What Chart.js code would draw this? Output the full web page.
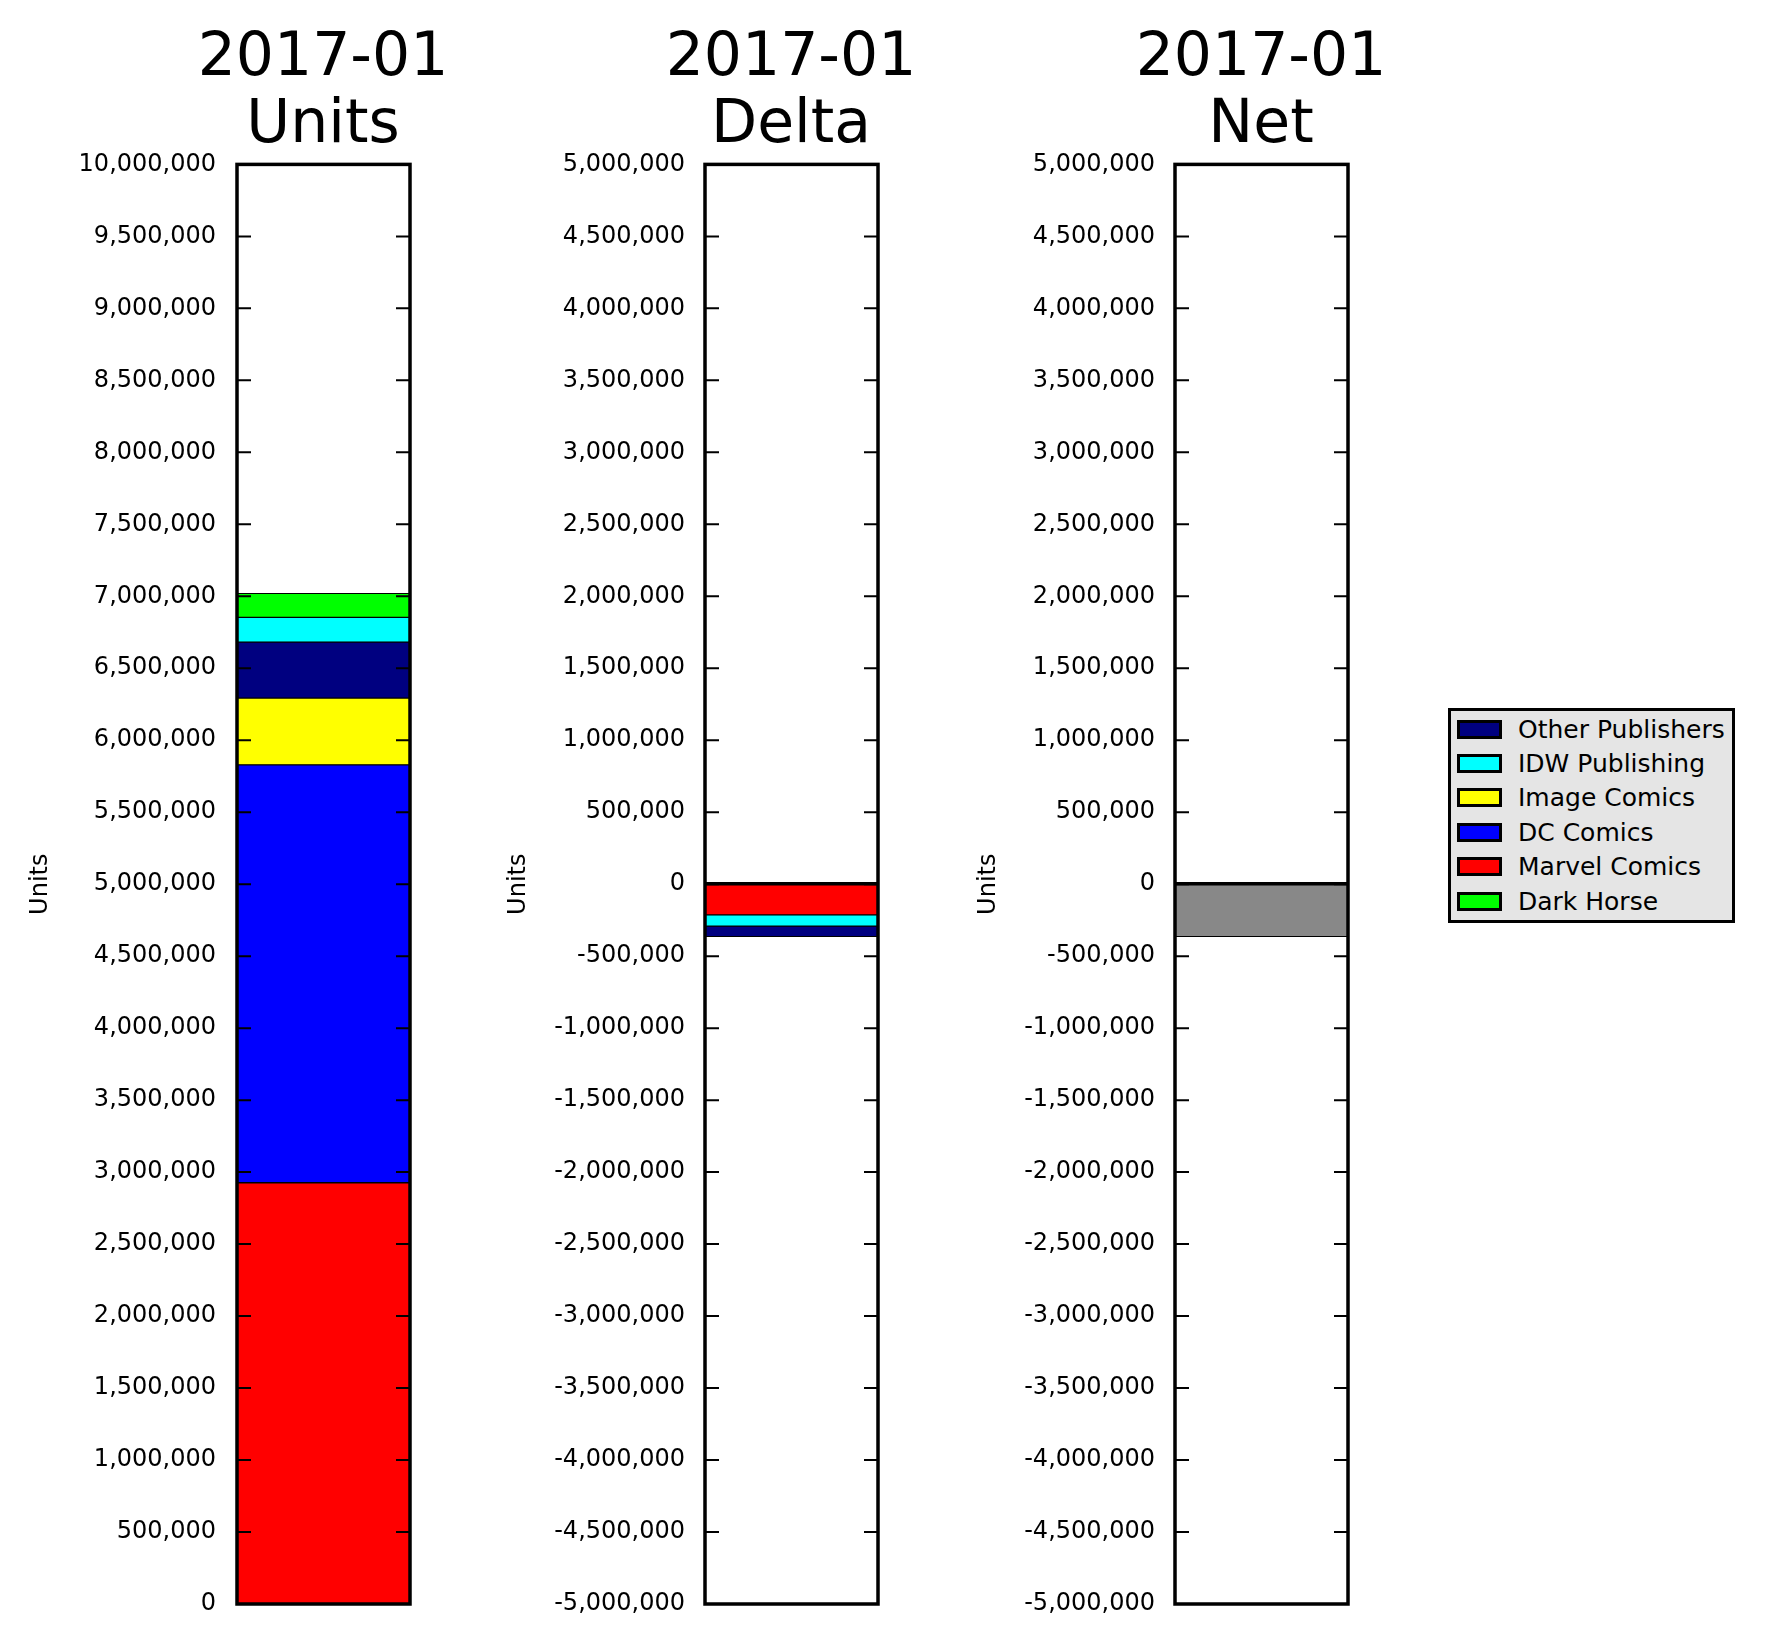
<!DOCTYPE html>
<html>
<head>
<meta charset="utf-8">
<title>2017-01 Units / Delta / Net</title>
<script src="https://cdn.jsdelivr.net/npm/chart.js@4.4.1/dist/chart.umd.min.js"></script>
<style>
  html, body { margin: 0; padding: 0; background: #fff; }
  body { width: 1776px; height: 1647px; position: relative; overflow: hidden; font-family: 'DejaVu Sans', sans-serif; }
  .panel { position: absolute; top: 0; }
  #legend { position: absolute; left: 1448px; top: 708px; width: 287px; height: 215px; box-sizing: border-box;
            border: 3px solid #000; background: #e5e5e5; padding-top: 1px; }
  .item { height: 34.4px; display: flex; align-items: center; font-size: 25px; color: #000; white-space: nowrap; }
  .swatch { width: 45px; height: 19px; box-sizing: border-box; border: 3px solid #000; margin-left: 6px; margin-right: 16px; }
</style>
</head>
<body>
<canvas id="units" class="panel" width="646" height="1647" style="left:0px"></canvas>
<canvas id="delta" class="panel" width="646" height="1647" style="left:468px"></canvas>
<canvas id="net" class="panel" width="646" height="1647" style="left:938px"></canvas>
<div id="legend"></div>
<script>
// data
const period = ['2017-01'];
const publishers = ['Marvel Comics', 'DC Comics', 'Image Comics', 'Other Publishers', 'IDW Publishing', 'Dark Horse'];
const unitsValues = [2926000, 2903000, 463000, 390000, 172000, 167000];
const deltaValues = [-213000, 0, 0, -74000, -78000, 0];
const netValues = [-365000];
const deltaStackOrder = ['Marvel Comics', 'DC Comics', 'Image Comics', 'IDW Publishing', 'Other Publishers', 'Dark Horse'];
const legendOrder = ['Other Publishers', 'IDW Publishing', 'Image Comics', 'DC Comics', 'Marvel Comics', 'Dark Horse'];
const unitsRange = [0, 10000000];
const deltaRange = [-5000000, 5000000];
const tickStep = 500000;

const colors = {
  'Marvel Comics': '#ff0000',
  'DC Comics': '#0000ff',
  'Image Comics': '#ffff00',
  'Other Publishers': '#000080',
  'IDW Publishing': '#00ffff',
  'Dark Horse': '#00ff00',
  'Net': '#888888'
};

const FONT = 'DejaVu Sans';

// matplotlib-classic look: black frame, inward ticks on both sides
const frameAndTicks = {
  id: 'frameAndTicks',
  afterDatasetsDraw(chart) {
    const { ctx, chartArea: a } = chart;
    const y = chart.scales.y;
    ctx.save();
    ctx.strokeStyle = '#000';
    if (y.min < 0) {
      const z = y.getPixelForValue(0);
      ctx.lineWidth = 3.5;
      ctx.beginPath();
      ctx.moveTo(a.left, z - 0.5);
      ctx.lineTo(a.right, z - 0.5);
      ctx.stroke();
    }
    ctx.lineWidth = 2;
    y.ticks.forEach(t => {
      const py = y.getPixelForValue(t.value);
      ctx.beginPath();
      ctx.moveTo(a.left, py);
      ctx.lineTo(a.left + 14, py);
      ctx.moveTo(a.right - 14, py);
      ctx.lineTo(a.right, py);
      ctx.stroke();
    });
    ctx.lineWidth = 3.5;
    ctx.strokeRect(a.left, a.top, a.width, a.height);
    ctx.restore();
  }
};

function barSet(label, values) {
  return {
    label: label,
    data: values,
    backgroundColor: colors[label],
    borderColor: '#000',
    borderWidth: 1,
    borderSkipped: false,
    categoryPercentage: 1,
    barPercentage: 1
  };
}

function makePanel(id, name, datasets, range, labelPad, titleX) {
  return new Chart(document.getElementById(id), {
    type: 'bar',
    data: { labels: period, datasets: datasets },
    plugins: [frameAndTicks],
    options: {
      responsive: false,
      animation: false,
      layout: { padding: { left: 0, right: 0, top: 0, bottom: 43 } },
      plugins: {
        legend: { display: false },
        tooltip: { enabled: false },
        title: {
          display: true,
          text: [period[0], name],
          color: '#000',
          font: { family: FONT, size: 60, weight: 'normal', lineHeight: 1.12 },
          padding: { top: 26, bottom: 4 }
        }
      },
      scales: {
        x: { display: false, stacked: true },
        y: {
          stacked: true,
          min: range[0],
          max: range[1],
          afterFit(scale) { scale.width = 237; },
          grid: { display: false, drawTicks: false },
          border: { display: false },
          ticks: {
            stepSize: tickStep,
            autoSkip: false,
            padding: labelPad,
            color: '#000',
            font: { family: FONT, size: 24 },
            callback: v => Number(v).toLocaleString('en-US')
          },
          title: {
            display: true,
            text: 'Units',
            color: '#000',
            font: { family: FONT, size: 24, lineHeight: 1.2 },
            padding: { top: titleX - 14.4, bottom: 0 }
          }
        },
        // empty right-hand axis, only reserves space so the title centres on the bar
        spacer: {
          position: 'right',
          afterFit(scale) { scale.width = 236; },
          grid: { display: false, drawTicks: false },
          border: { display: false },
          ticks: { display: false }
        }
      }
    }
  });
}

makePanel('units', 'Units',
  publishers.map((p, i) => barSet(p, [unitsValues[i]])),
  unitsRange, 21, 41);

makePanel('delta', 'Delta',
  deltaStackOrder.map(p => barSet(p, [deltaValues[publishers.indexOf(p)]])),
  deltaRange, 20, 50.3);

makePanel('net', 'Net',
  [barSet('Net', netValues)],
  deltaRange, 20, 50.3);

// legend box
const legend = document.getElementById('legend');
legendOrder.forEach(p => {
  const row = document.createElement('div');
  row.className = 'item';
  const sw = document.createElement('span');
  sw.className = 'swatch';
  sw.style.background = colors[p];
  const tx = document.createElement('span');
  tx.textContent = p;
  row.appendChild(sw);
  row.appendChild(tx);
  legend.appendChild(row);
});
</script>
</body>
</html>
